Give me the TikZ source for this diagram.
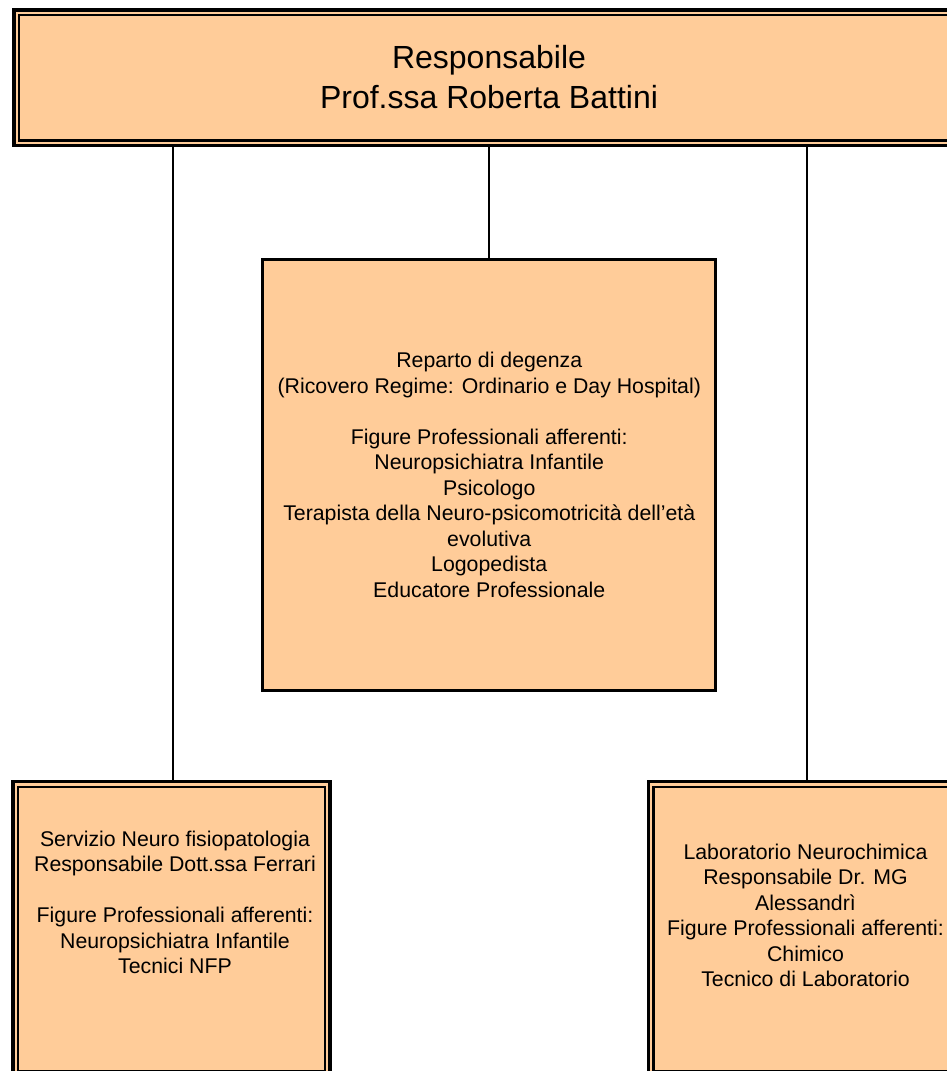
\documentclass[tikz,border=0pt]{standalone}
\usepackage{fontspec}
\setmainfont{Liberation Sans}
\definecolor{peach}{HTML}{FFCC99}
\newcommand{\mybodyfont}{\fontsize{21.3}{25.5}\selectfont}
\newcommand{\mytitlefont}{\fontsize{32}{40}\selectfont}
\begin{document}
\begin{tikzpicture}[x=1pt,y=-1pt,
  outerbox/.style={draw=black, fill=peach, line width=3.4pt, inner sep=0pt, outer sep=0pt},
  innerline/.style={draw=black, line width=2.4pt},
  midbox/.style={draw=black, fill=peach, line width=3pt, inner sep=0pt, outer sep=0pt, align=center, font=\mybodyfont},
  txt/.style={align=center, font=\mybodyfont, inner sep=0pt},
  ttxt/.style={align=center, font=\mytitlefont, inner sep=0pt},
  conn/.style={draw=black, line width=2pt}]
\useasboundingbox (0,0) rectangle (947,1071);
\clip (0,0) rectangle (947,1071);

% top box
\node[outerbox, minimum width=950pt, minimum height=135.7pt] (top) at (489,77.8) {};
\draw[innerline] ([shift={(5,5)}]top.north west) rectangle ([shift={(-5,-5)}]top.south east);
\node[ttxt] (toptxt) at (489,77.5) {Responsabile\\Prof.ssa Roberta Battini};

% middle box
\node[midbox, minimum width=452.9pt, minimum height=430.5pt] (mid) at (489.25,474.75)
 {Reparto di degenza\\(Ricovero Regime: Ordinario e Day Hospital)\\[25.5pt]
  Figure Professionali afferenti:\\Neuropsichiatra Infantile\\Psicologo\\
  Terapista della Neuro-psicomotricità dell’età\\evolutiva\\Logopedista\\Educatore Professionale};

% left box
\node[outerbox, minimum width=317pt, minimum height=294pt] (left) at (171.5,928.7) {};
\draw[innerline] ([shift={(5,5)}]left.north west) rectangle ([shift={(-5,-5)}]left.south east);
\node[txt] (lefttxt) at (175,902.5)
 {Servizio Neuro fisiopatologia\\Responsabile Dott.ssa Ferrari\\[25.5pt]
  Figure Professionali afferenti:\\Neuropsichiatra Infantile\\Tecnici NFP};

% right box
\node[outerbox, minimum width=317.4pt, minimum height=294pt] (right) at (807,928.7) {};
\draw[innerline] ([shift={(5,5)}]right.north west) rectangle ([shift={(-5,-5)}]right.south east);
\node[txt] (righttxt) at (805.5,915.5)
 {Laboratorio Neurochimica\\Responsabile Dr. MG\\Alessandrì\\Figure Professionali afferenti:\\Chimico\\Tecnico di Laboratorio};

% connectors
\coordinate (lc) at ([xshift=1.5pt]left.north);
\draw[conn] (lc |- top.south) -- (lc);
\draw[conn] (mid.north |- top.south) -- (mid.north);
\draw[conn] (right.north |- top.south) -- (right.north);
\end{tikzpicture}
\end{document}
